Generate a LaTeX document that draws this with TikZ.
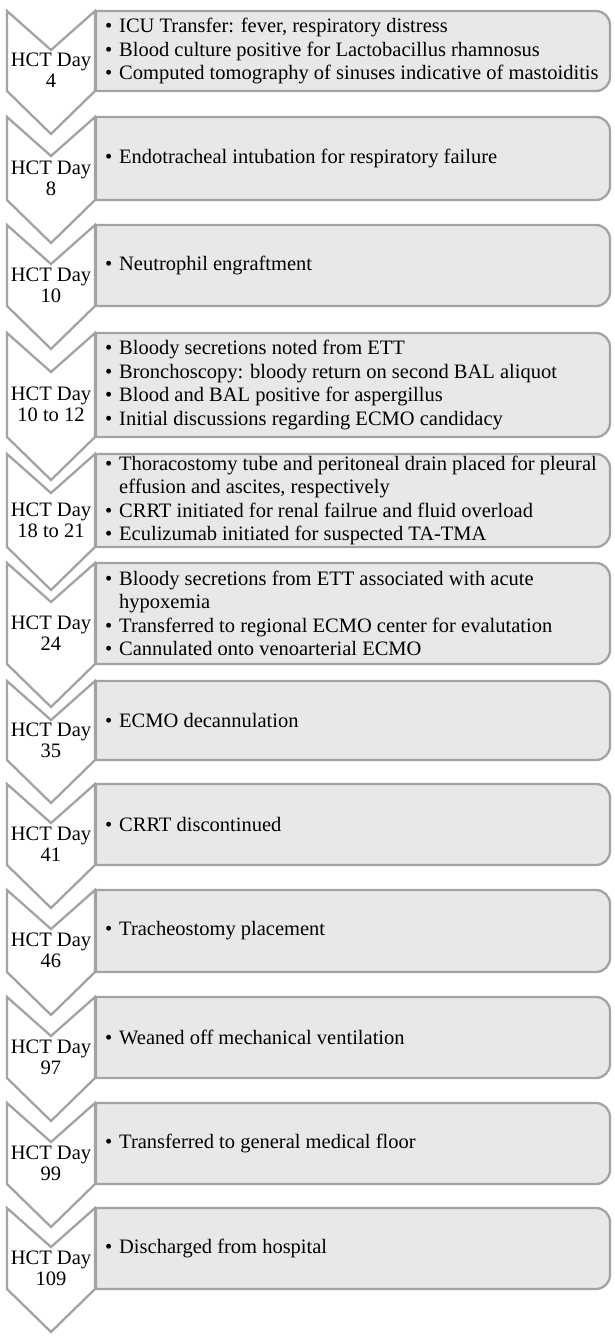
\documentclass[tikz,border=0pt]{standalone}
\usepackage{fontspec}
\setmainfont{Liberation Serif}
\definecolor{edgegray}{HTML}{A3A3A3}
\definecolor{boxfill}{HTML}{E8E8E8}
\newcommand{\bul}[1]{\makebox[14pt][l]{\textbullet}#1}
\newcommand{\cnt}[1]{\hspace*{14pt}#1}
\tikzset{
  chev/.style={draw=edgegray, fill=white, line width=2.3pt, line join=miter},
  evbox/.style={draw=edgegray, fill=boxfill, line width=2.3pt},
  daylabel/.style={font=\fontsize{20.5}{21}\selectfont, align=center, inner sep=0pt},
  evtext/.style={font=\fontsize{20.5}{23.5}\selectfont, align=left, inner sep=0pt, anchor=west}
}
\begin{document}
\begin{tikzpicture}[x=1pt,y=-1pt]
\useasboundingbox (0,0) rectangle (614,1339);
% #1 name, #2 top, #3 bottom, #4 day label, #5 text
\newcommand{\entry}[5]{%
  \pgfmathsetmacro{\tp}{#2}%
  \pgfmathsetmacro{\bt}{#3}%
  \pgfmathsetmacro{\nt}{#2+39}%
  \pgfmathsetmacro{\tip}{#3+43}%
  \pgfmathsetmacro{\lab}{(#2+#3+43)/2-2}%
  \pgfmathsetmacro{\mid}{(#2+#3)/2}%
  \draw[chev] (7,\tp) -- (51,\nt) -- (95,\tp) -- (95,\bt) -- (51,\tip) -- (7,\bt) -- cycle;
  \node[daylabel] (c#1) at (51,\lab) {#4};
  \draw[evbox] (96,\tp) -- (596,\tp) arc[start angle=-90,end angle=0,radius=14]
     -- (610,\bt-14) arc[start angle=0,end angle=90,radius=14] -- (96,\bt) -- cycle;
  \node[evtext] (b#1) at (105,\mid) {#5};
}
\entry{1}{11}{91}{HCT Day\\4}{\bul{ICU Transfer: fever, respiratory distress}\\\bul{Blood culture positive for Lactobacillus rhamnosus}\\\bul{Computed tomography of sinuses indicative of mastoiditis}}
\entry{2}{117}{200}{HCT Day\\8}{\bul{Endotracheal intubation for respiratory failure}}
\entry{3}{225}{306}{HCT Day\\10}{\bul{Neutrophil engraftment}}
\entry{4}{333}{437}{HCT Day\\10 to 12}{\bul{Bloody secretions noted from ETT}\\\bul{Bronchoscopy: bloody return on second BAL aliquot}\\\bul{Blood and BAL positive for aspergillus}\\\bul{Initial discussions regarding ECMO candidacy}}
\entry{5}{454}{547}{HCT Day\\18 to 21}{\bul{Thoracostomy tube and peritoneal drain placed for pleural}\\\cnt{effusion and ascites, respectively}\\\bul{CRRT initiated for renal failrue and fluid overload}\\\bul{Eculizumab initiated for suspected TA-TMA}}
\entry{6}{563}{664}{HCT Day\\24}{\bul{Bloody secretions from ETT associated with acute}\\\cnt{hypoxemia}\\\bul{Transferred to regional ECMO center for evalutation}\\\bul{Cannulated onto venoarterial ECMO}}
\entry{7}{681}{760}{HCT Day\\35}{\bul{ECMO decannulation}}
\entry{8}{784}{865}{HCT Day\\41}{\bul{CRRT discontinued}}
\entry{9}{890}{972}{HCT Day\\46}{\bul{Tracheostomy placement}}
\entry{10}{997}{1078}{HCT Day\\97}{\bul{Weaned off mechanical ventilation}}
\entry{11}{1103}{1184}{HCT Day\\99}{\bul{Transferred to general medical floor}}
\entry{12}{1208}{1289}{HCT Day\\109}{\bul{Discharged from hospital}}
\end{tikzpicture}
\end{document}
